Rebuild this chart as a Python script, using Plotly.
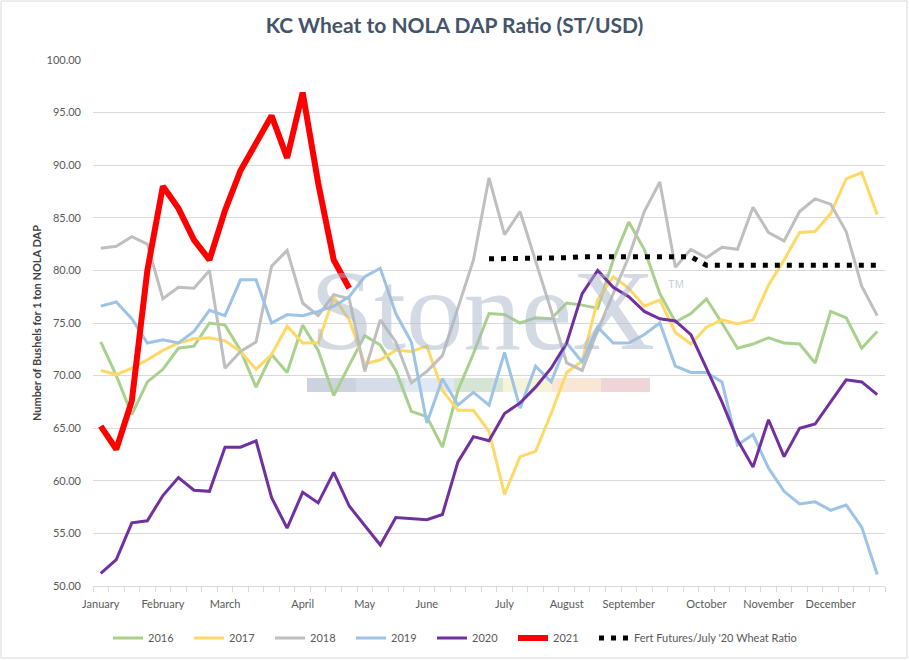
import plotly.graph_objects as go

# weekly ratio values, 51 weeks per year
weeks = list(range(51))
month_pos = [0, 4, 8, 13, 17, 21, 26, 30, 34, 39, 43, 47]
month_names = ['January', 'February', 'March', 'April', 'May', 'June', 'July',
               'August', 'September', 'October', 'November', 'December']

y2016 = [73.2, 70.0, 66.3, 69.4, 70.6, 72.6, 72.8, 75.0, 74.8, 72.4, 68.9, 72.0, 70.3,
         74.8, 72.4, 68.1, 71.0, 73.8, 72.9, 70.5, 66.6, 66.1, 63.2, 68.6, 72.1, 75.9,
         75.8, 75.0, 75.5, 75.4, 76.9, 76.7, 76.4, 81.0, 84.6, 82.0, 77.8, 75.1, 75.9,
         77.3, 75.0, 72.6, 73.0, 73.6, 73.1, 73.0, 71.2, 76.1, 75.5, 72.6, 74.2]
y2017 = [70.5, 70.1, 70.7, 71.5, 72.4, 73.1, 73.5, 73.6, 73.3, 72.3, 70.6, 72.0, 74.7,
         73.1, 73.1, 77.5, 75.3, 71.1, 71.5, 72.4, 72.3, 72.8, 68.6, 66.7, 66.7, 64.7,
         58.7, 62.3, 62.8, 66.4, 70.3, 71.4, 77.2, 79.4, 78.3, 76.6, 77.2, 74.1, 73.0,
         74.6, 75.3, 74.9, 75.3, 78.6, 81.0, 83.6, 83.7, 85.4, 88.7, 89.3, 85.3]
y2018 = [82.1, 82.3, 83.2, 82.5, 77.3, 78.4, 78.3, 80.0, 70.7, 72.3, 73.2, 80.4, 81.9,
         76.9, 75.7, 77.7, 77.3, 70.4, 75.3, 73.2, 69.3, 70.4, 71.9, 76.5, 81.0, 88.8,
         83.4, 85.6, 81.0, 76.2, 71.2, 70.5, 74.3, 77.8, 81.3, 85.6, 88.4, 80.3, 82.0,
         81.2, 82.2, 82.0, 86.0, 83.6, 82.8, 85.6, 86.8, 86.3, 83.7, 78.5, 75.7]
y2019 = [76.6, 77.0, 75.4, 73.1, 73.4, 73.1, 74.2, 76.2, 75.7, 79.1, 79.1, 75.0, 75.8,
         75.7, 76.1, 76.6, 77.5, 79.4, 80.2, 75.9, 73.2, 65.5, 69.7, 67.2, 68.4, 67.2,
         72.2, 66.9, 70.9, 69.4, 73.1, 71.3, 74.6, 73.1, 73.1, 73.9, 75.0, 70.9, 70.3,
         70.3, 69.4, 63.4, 64.4, 61.2, 59.0, 57.8, 58.0, 57.2, 57.7, 55.6, 51.1]
y2020 = [51.2, 52.5, 56.0, 56.2, 58.6, 60.3, 59.1, 59.0, 63.2, 63.2, 63.8, 58.4, 55.5,
         58.9, 57.9, 60.8, 57.6, 55.8, 53.9, 56.5, 56.4, 56.3, 56.8, 61.8, 64.2, 63.8,
         66.4, 67.4, 68.9, 70.7, 73.1, 77.8, 80.0, 78.4, 77.5, 76.1, 75.4, 75.2, 73.9,
         70.7, 67.5, 63.9, 61.3, 65.8, 62.3, 65.0, 65.4, 67.5, 69.6, 69.4, 68.2]
y2021 = [65.2, 63.0, 67.6, 80.0, 88.0, 85.9, 82.9, 81.0, 85.7, 89.5, 92.1, 94.7, 90.7,
         96.9, 88.3, 81.0, 78.3]

fert_weeks = list(range(25, 51))
fert_ratio = [81.1, 81.1, 81.1, 81.1, 81.2, 81.2, 81.3, 81.3, 81.3, 81.3, 81.3, 81.3,
              81.3, 81.3, 80.5, 80.5, 80.5, 80.5, 80.5, 80.5, 80.5, 80.5, 80.5, 80.5,
              80.5, 80.5]

years = [('2016', y2016, '#a9d18e', 3),
         ('2017', y2017, '#ffd966', 3),
         ('2018', y2018, '#bfbfbf', 3),
         ('2019', y2019, '#9dc3e6', 3),
         ('2020', y2020, '#7030a0', 3),
         ('2021', y2021, '#ff0000', 6)]

fig = go.Figure()
for name, vals, col, w in years:
    fig.add_trace(go.Scatter(x=weeks[:len(vals)], y=vals, name=name, mode='lines',
                             line=dict(color=col, width=w), legend='legend'))
fig.add_trace(go.Scatter(x=fert_weeks, y=fert_ratio, name="Fert Futures/July '20 Wheat Ratio",
                         mode='lines', line=dict(color='black', width=5, dash='5px,7px'),
                         legend='legend2'))

# plot area in pixels: x 93..885, y 60..586
def px_x(p):
    return (p - 93) / 792.0

def px_y(p):
    return (586 - p) / 526.0

shapes = []
# StoneX watermark colour bar
bar_cols = ['#ccd3de', '#d6dde8', '#dfe9f3', '#d6e4d6', '#f5f3d8', '#f8e7d5', '#f0d5d8']
for k, c in enumerate(bar_cols):
    shapes.append(dict(type='rect', xref='paper', yref='paper', layer='below',
                       x0=px_x(307 + 49 * k), x1=px_x(307 + 49 * (k + 1)),
                       y0=px_y(392), y1=px_y(378), fillcolor=c, line=dict(width=0)))
# chart border
shapes.append(dict(type='rect', xref='paper', yref='paper', x0=px_x(1), x1=px_x(907),
                   y0=px_y(658), y1=px_y(1), line=dict(color='#d9d9d9', width=1)))

leg_font = dict(size=11, color='#595959')
leg_y = (660 - 638) / 660.0
fig.update_layout(
    width=909, height=660,
    margin=dict(l=93, r=24, t=60, b=74),
    paper_bgcolor='white', plot_bgcolor='white',
    title=dict(text='<b>KC Wheat to NOLA DAP Ratio (ST/USD)</b>', x=0.5, xanchor='center',
               y=1 - 26 / 660, yanchor='middle',
               font=dict(family='Lato, Open Sans, sans-serif', size=21, color='#44546a')),
    font=dict(family='Lato, Open Sans, sans-serif', size=11, color='#595959'),
    showlegend=True,
    legend=dict(orientation='h', xref='container', yref='container', x=108 / 909.0,
                xanchor='left', y=leg_y, yanchor='middle',
                entrywidth=36, entrywidthmode='pixels', font=leg_font, traceorder='normal'),
    legend2=dict(orientation='h', xref='container', yref='container', x=594 / 909.0,
                 xanchor='left', y=leg_y, yanchor='middle', font=leg_font),
    shapes=shapes,
    annotations=[
        dict(text='StoneX', xref='paper', yref='paper', x=px_x(482), y=px_y(310),
             xanchor='center', yanchor='middle', showarrow=False,
             font=dict(family='Liberation Serif, serif', size=115, color='rgba(170,182,200,0.5)')),
        dict(text='TM', xref='paper', yref='paper', x=px_x(676), y=px_y(284),
             xanchor='center', yanchor='middle', showarrow=False,
             font=dict(family='Liberation Sans, sans-serif', size=11, color='rgba(170,182,200,0.7)')),
    ],
)
fig.update_xaxes(range=[-0.5, 50.5], tickmode='array', tickvals=month_pos, ticktext=month_names,
                 ticks='', showgrid=False, zeroline=False, showline=True, linecolor='#d9d9d9',
                 ticklabelstandoff=8, automargin=False,
                 minor=dict(ticks='outside', tickmode='linear', tick0=-0.5, dtick=1, ticklen=5,
                            tickcolor='#d9d9d9', showgrid=False),
                 tickfont=dict(size=11, color='#595959'))
fig.update_yaxes(range=[50, 100], dtick=5, tickformat='.2f', showgrid=True, gridcolor='#d9d9d9',
                 zeroline=False, showline=False, ticklabelstandoff=11, automargin=False,
                 tickfont=dict(size=11, color='#595959'),
                 title=dict(text='<b>Number of Bushels for 1 ton NOLA DAP</b>', standoff=2,
                            font=dict(size=11, color='#404040')))

fig.write_html("out.html", config={'displayModeBar': False},
               post_script="document.body.style.margin='0';")
